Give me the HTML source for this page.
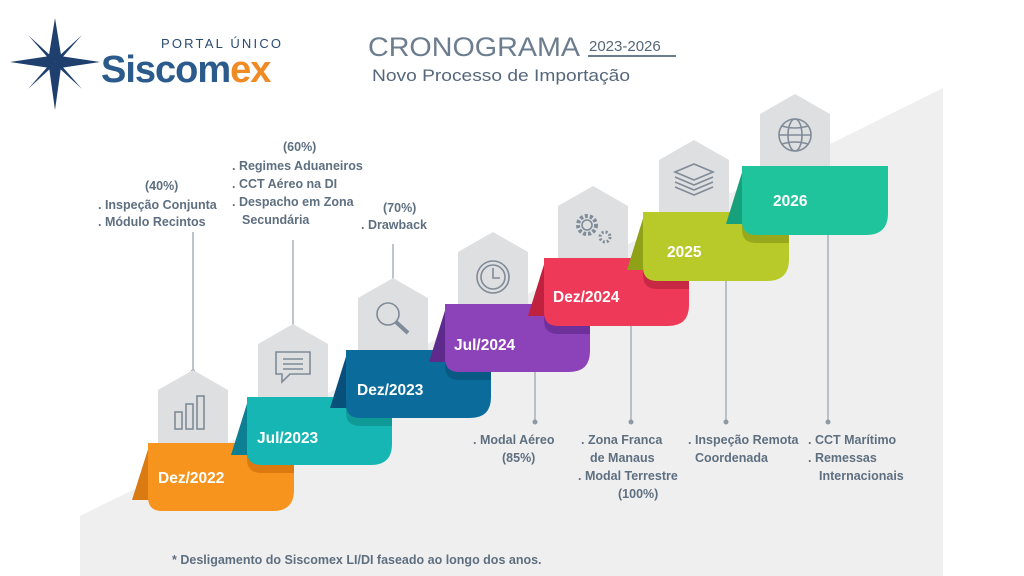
<!DOCTYPE html>
<html><head><meta charset="utf-8"><style>
html,body{margin:0;padding:0;background:#fff;}
svg{display:block;}
text{font-family:"Liberation Sans",sans-serif;}
.t{fill:#5e6f80;font-size:12.5px;font-weight:bold;}
.c{fill:#fff;font-size:15.5px;font-weight:bold;}
</style></head><body>
<svg width="1024" height="576" viewBox="0 0 1024 576" xmlns="http://www.w3.org/2000/svg">
<polygon points="80,576 80,516 943,88 943,576" fill="#efefef"/>
<!-- logo -->
<g fill="#1f3f6e">
<polygon points="55,18 61,55 55,62 49,55"/>
<polygon points="55,110 61,67 55,62 49,67"/>
<polygon points="10,62 50,56 55,62 50,68"/>
<polygon points="100,62 60,56 55,62 60,68"/>
<polygon points="28,35 52,57 55,62 50,60"/>
<polygon points="82,35 58,57 55,62 60,60"/>
<polygon points="28,89 52,67 55,62 50,64"/>
<polygon points="82,89 58,67 55,62 60,64"/>
</g>
<text x="161" y="48" fill="#2a4a72" font-size="13" letter-spacing="2.2">PORTAL ÚNICO</text>
<text x="101" y="82" font-size="38" font-weight="bold" fill="#2b5a8c" letter-spacing="-1">Siscom<tspan fill="#ef8a25">ex</tspan></text>
<text x="368" y="56" fill="#6b7d8e" font-size="27" textLength="212" lengthAdjust="spacingAndGlyphs">CRONOGRAMA</text>
<text x="589" y="51" fill="#55677a" font-size="15">2023-2026</text>
<rect x="588" y="55" width="88" height="2" fill="#6b7d8e"/>
<text x="372" y="81" fill="#55677a" font-size="17" textLength="258" lengthAdjust="spacingAndGlyphs">Novo Processo de Importação</text>

<!-- connector lines -->
<g stroke="#a9b1ba" stroke-width="1.5">
<line x1="193" y1="232" x2="193" y2="372"/>
<line x1="293" y1="240" x2="293" y2="327"/>
<line x1="393" y1="244" x2="393" y2="284"/>
<line x1="535" y1="365" x2="535" y2="422"/>
<line x1="631" y1="320" x2="631" y2="422"/>
<line x1="726" y1="270" x2="726" y2="422"/>
<line x1="828" y1="228" x2="828" y2="422"/>
</g>
<g fill="#8f99a4">
<circle cx="193" cy="372" r="2.5"/><circle cx="293" cy="327" r="2.5"/><circle cx="393" cy="284" r="2.5"/>
<circle cx="535" cy="367" r="2.5"/><circle cx="535" cy="422" r="2.5"/>
<circle cx="631" cy="322" r="2.5"/><circle cx="631" cy="422" r="2.5"/>
<circle cx="726" cy="272" r="2.5"/><circle cx="726" cy="422" r="2.5"/>
<circle cx="828" cy="228" r="2.5"/><circle cx="828" cy="422" r="2.5"/>
</g>

<!-- tags -->
<g fill="#dedfe1">
<polygon points="158,390 193,370 228,390 228,450 158,450"/>
<polygon points="258,344 293,324 328,344 328,404 258,404"/>
<polygon points="358,298 393,278 428,298 428,358 358,358"/>
<polygon points="458,252 493,232 528,252 528,312 458,312"/>
<polygon points="558,206 593,186 628,206 628,266 558,266"/>
<polygon points="659,160 694,140 729,160 729,220 659,220"/>
<polygon points="760,114 795,94 830,114 830,174 760,174"/>
</g>
<!-- icons -->
<g fill="none" stroke="#7f8b98" stroke-width="1.6">
<rect x="175" y="412" width="7" height="17"/><rect x="186" y="404" width="7" height="25"/><rect x="197" y="396" width="7" height="33"/>
<path d="M276,352 H310 V374 H290 L282,382 V374 H276 Z"/><line x1="283" y1="359" x2="303" y2="359"/><line x1="283" y1="364" x2="303" y2="364"/><line x1="283" y1="369" x2="303" y2="369"/>
<circle cx="388" cy="314" r="11"/><line x1="396" y1="322" x2="408" y2="333" stroke-width="4"/>
<circle cx="493" cy="277" r="16"/><circle cx="493" cy="277" r="12"/><polyline points="493,268 493,278 500,278"/>
<circle cx="587" cy="225" r="9" stroke-dasharray="3 2" stroke-width="4"/><circle cx="587" cy="225" r="5"/><circle cx="605" cy="237" r="5" stroke-dasharray="2 2" stroke-width="3"/>
<path d="M675,172 L694,164 L713,172 L694,180 Z"/><path d="M675,177 L694,185 L713,177"/><path d="M675,182 L694,190 L713,182"/><path d="M675,187 L694,195 L713,187"/>
<circle cx="795" cy="135" r="16"/><ellipse cx="795" cy="135" rx="7" ry="16"/><line x1="779" y1="135" x2="811" y2="135"/><path d="M782,126 Q795,130 808,126"/><path d="M782,144 Q795,140 808,144"/>
</g>

<!-- cards -->
<g>
<polygon points="150,443 166,443 166,500 132,500" fill="#d97a12"/>
<path d="M148,443 H294 V490 Q294,511 273,511 H162 Q148,511 148,497 Z" fill="#f7941d"/>
<path d="M247,443 H294 V473 H261 Q247,473 247,459 Z" fill="#dc7a10"/>

<polygon points="249,397 265,397 265,455 231,455" fill="#0d7f93"/>
<path d="M247,397 H392 V444 Q392,465 371,465 H261 Q247,465 247,451 Z" fill="#16b6b5"/>
<path d="M346,397 H392 V426 H360 Q346,426 346,412 Z" fill="#0f9a98"/>

<polygon points="348,350 364,350 364,408 330,408" fill="#084f7a"/>
<path d="M346,350 H491 V397 Q491,418 470,418 H360 Q346,418 346,404 Z" fill="#0b6c9c"/>
<path d="M445,350 H491 V380 H459 Q445,380 445,366 Z" fill="#085984"/>

<polygon points="447,304 463,304 463,362 429,362" fill="#5e2b8c"/>
<path d="M445,304 H590 V351 Q590,372 569,372 H459 Q445,372 445,358 Z" fill="#8c43b9"/>
<path d="M544,304 H590 V334 H558 Q544,334 544,320 Z" fill="#6e309b"/>

<polygon points="546,258 562,258 562,316 528,316" fill="#c0213f"/>
<path d="M544,258 H689 V305 Q689,326 668,326 H558 Q544,326 544,312 Z" fill="#ee3a58"/>
<path d="M643,258 H689 V289 H657 Q643,289 643,275 Z" fill="#c72945"/>

<polygon points="645,212 661,212 661,270 627,270" fill="#8ea117"/>
<path d="M643,212 H789 V259 Q789,281 767,281 H657 Q643,281 643,267 Z" fill="#b8c92a"/>
<path d="M742,212 H789 V243 H756 Q742,243 742,229 Z" fill="#98a81c"/>

<polygon points="744,166 760,166 760,224 726,224" fill="#17a07c"/>
<path d="M742,166 H888 V213 Q888,235 866,235 H756 Q742,235 742,221 Z" fill="#1fc49c"/>
</g>
<text class="c" x="158" y="483">Dez/2022</text>
<text class="c" x="257" y="443">Jul/2023</text>
<text class="c" x="357" y="395">Dez/2023</text>
<text class="c" x="454" y="350">Jul/2024</text>
<text class="c" x="553" y="302">Dez/2024</text>
<text class="c" x="667" y="257">2025</text>
<text class="c" x="773" y="206">2026</text>

<!-- descriptions -->
<text class="t" x="145" y="190">(40%)</text>
<text class="t" x="98" y="209">.  Inspeção Conjunta</text>
<text class="t" x="98" y="226">.  Módulo Recintos</text>
<text class="t" x="283" y="151">(60%)</text>
<text class="t" x="232" y="170">.  Regimes Aduaneiros</text>
<text class="t" x="232" y="188">.  CCT Aéreo na DI</text>
<text class="t" x="232" y="206">.  Despacho em Zona</text>
<text class="t" x="242" y="224">Secundária</text>
<text class="t" x="383" y="212">(70%)</text>
<text class="t" x="361" y="229">. Drawback</text>
<text class="t" x="473" y="444">. Modal Aéreo</text>
<text class="t" x="502" y="462">(85%)</text>
<text class="t" x="581" y="444">.  Zona Franca</text>
<text class="t" x="590" y="462">de Manaus</text>
<text class="t" x="578" y="480">.  Modal Terrestre</text>
<text class="t" x="618" y="498">(100%)</text>
<text class="t" x="688" y="444">. Inspeção Remota</text>
<text class="t" x="695" y="462">Coordenada</text>
<text class="t" x="808" y="444">.  CCT Marítimo</text>
<text class="t" x="808" y="462">.  Remessas</text>
<text class="t" x="819" y="480">Internacionais</text>
<text class="t" x="172" y="564">* Desligamento do Siscomex LI/DI faseado ao longo dos anos.</text>
</svg>
</body></html>
